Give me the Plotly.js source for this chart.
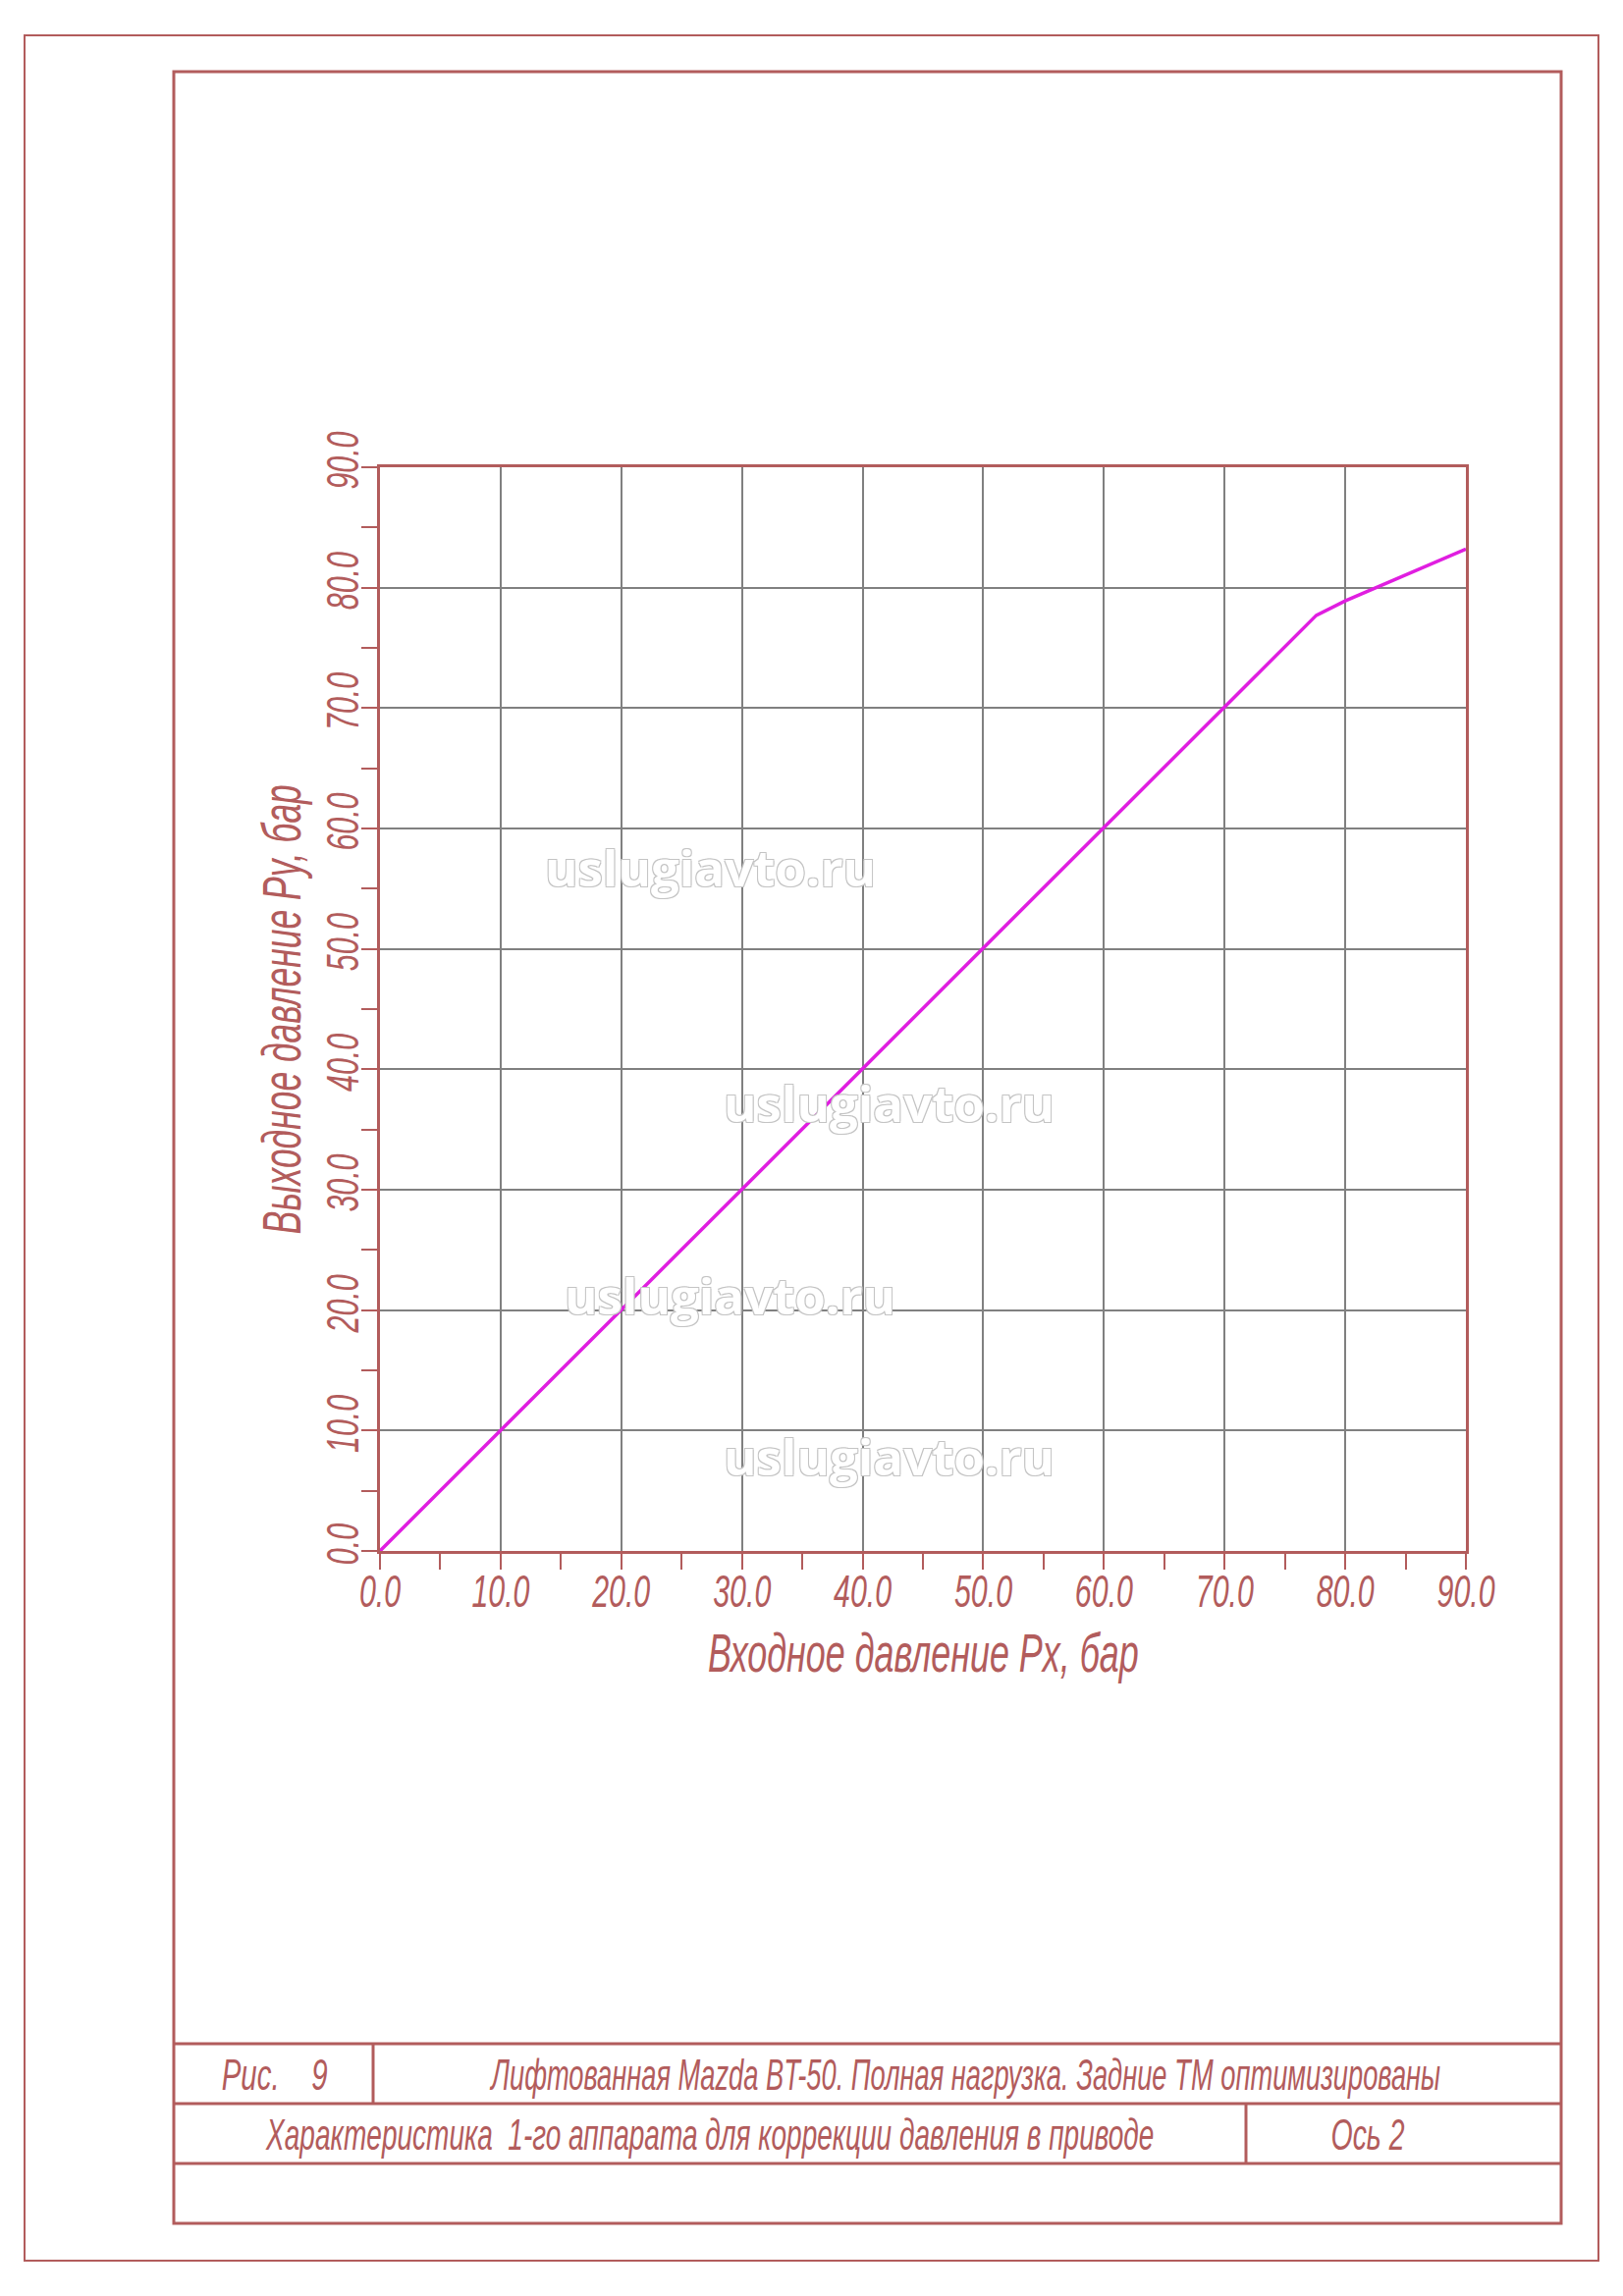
<!DOCTYPE html>
<html>
<head>
<meta charset="utf-8">
<script src="https://cdn.plot.ly/plotly-3.0.1.min.js"></script>
<style>
  html, body { margin: 0; padding: 0; background: #fff; }
  #chart { width: 1653px; height: 2339px; }
</style>
</head>
<body>
<div id="chart"></div>
<script>
// Characteristic of the pressure correction device (input vs output pressure)
const inputPressure = [0, 77.6, 80, 90];
const outputPressure = [0, 77.7, 78.9, 83.2];

const tickValues = [0, 10, 20, 30, 40, 50, 60, 70, 80, 90];
const tickLabels = ['0.0', '10.0', '20.0', '30.0', '40.0', '50.0', '60.0', '70.0', '80.0', '90.0'];

const xTitle = 'Входное давление Px, бар';
const yTitle = 'Выходное давление Py, бар';
const figLabel = 'Рис.    9';
const headerText = 'Лифтованная Mazda BT-50. Полная нагрузка. Задние ТМ оптимизированы';
const captionText = 'Характеристика  1-го аппарата для коррекции давления в приводе';
const axisText = 'Ось 2';
const watermark = 'uslugiavto.ru';

// Page geometry (pixels)
const W = 1653, H = 2339;
const fx = x => x / W;
const fy = y => 1 - y / H;

const red = '#b25c5c';
const gridGray = '#808080';
const lineMagenta = '#e01ee0';
const drawFont = 'Liberation Sans, Arial, sans-serif';

const plotBox = { left: 387, right: 1493, top: 476, bottom: 1580 };

// the drawing font is a narrow one, so wide glyphs get squeezed after render
const textWidths = {};
textWidths[xTitle] = 439;
textWidths[yTitle] = 458;
textWidths[figLabel] = 108;
textWidths[headerText] = 969;
textWidths[captionText] = 905;
textWidths[axisText] = 75;
const tickSqueeze = 0.66;

function hline(x0, x1, y, width) {
    return { type: 'line', xref: 'paper', yref: 'paper',
        x0: fx(x0), x1: fx(x1), y0: fy(y), y1: fy(y),
        line: { color: red, width: width } };
}
function vline(x, y0, y1, width) {
    return { type: 'line', xref: 'paper', yref: 'paper',
        x0: fx(x), x1: fx(x), y0: fy(y0), y1: fy(y1),
        line: { color: red, width: width } };
}
function rect(x0, y0, x1, y1, width) {
    return { type: 'rect', xref: 'paper', yref: 'paper',
        x0: fx(x0), x1: fx(x1), y0: fy(y1), y1: fy(y0),
        line: { color: red, width: width }, fillcolor: 'rgba(0,0,0,0)' };
}

// Drawing sheet frame and title block
const shapes = [
    rect(25, 36, 1628, 2303, 2),
    rect(177, 73, 1590, 2265, 3),
    hline(177, 1590, 2082, 3),
    hline(177, 1590, 2143, 3),
    hline(177, 1590, 2204, 3),
    vline(380, 2082, 2143, 3),
    vline(1269, 2143, 2204, 3)
];

function label(text, x, y, size, extra) {
    return Object.assign({
        text: text, xref: 'paper', yref: 'paper',
        x: fx(x), y: fy(y), xanchor: 'center', yanchor: 'middle',
        showarrow: false,
        font: { family: drawFont, size: size, color: red, style: 'italic' }
    }, extra || {});
}

function mark(x, y) {
    return {
        text: watermark, xref: 'paper', yref: 'paper',
        x: fx(x), y: fy(y), xanchor: 'center', yanchor: 'middle',
        showarrow: false,
        font: { family: 'Open Sans, DejaVu Sans, sans-serif', size: 51, weight: 700,
            color: '#ffffff',
            shadow: '1px 1px 0 #c4c4c4, -1px -1px 0 #c4c4c4, 1px -1px 0 #c4c4c4, -1px 1px 0 #c4c4c4' }
    };
}

const annotations = [
    label(xTitle, 940, 1683, 56),
    label(yTitle, 286, 1028, 56, { textangle: -90 }),
    label(figLabel, 279, 2113, 44),
    label(headerText, 983, 2113, 44),
    label(captionText, 723, 2174, 44),
    label(axisText, 1393, 2174, 44),
    mark(723, 883),
    mark(905, 1123),
    mark(743, 1319),
    mark(905, 1483)
];

const axisCommon = {
    range: [0, 90],
    tickmode: 'array',
    tickvals: tickValues,
    ticktext: tickLabels,
    ticks: 'outside',
    ticklen: 16,
    tickwidth: 2,
    tickcolor: red,
    minor: { dtick: 5, tick0: 0, ticks: 'outside', ticklen: 16, tickwidth: 2, tickcolor: red, showgrid: false },
    showline: true,
    linecolor: red,
    linewidth: 3,
    mirror: true,
    showgrid: true,
    gridcolor: gridGray,
    gridwidth: 2,
    zeroline: false,
    fixedrange: true,
    automargin: false,
    tickfont: { family: drawFont, size: 46, color: red, style: 'italic' }
};

const trace = {
    x: inputPressure,
    y: outputPressure,
    type: 'scatter',
    mode: 'lines',
    line: { color: lineMagenta, width: 3.5 },
    hoverinfo: 'skip',
    cliponaxis: false
};

const layout = {
    width: W,
    height: H,
    margin: { t: 0, r: 0, b: 0, l: 0 },
    paper_bgcolor: '#ffffff',
    plot_bgcolor: '#ffffff',
    showlegend: false,
    xaxis: Object.assign({}, axisCommon, {
        domain: [fx(plotBox.left), fx(plotBox.right)],
        tickangle: 0,
        ticklabelstandoff: -17
    }),
    yaxis: Object.assign({}, axisCommon, {
        domain: [fy(plotBox.bottom), fy(plotBox.top)],
        tickangle: -90,
        ticklabelstandoff: -15
    }),
    shapes: shapes,
    annotations: annotations
};

// squeeze a text element along its own baseline, keeping its centre
function squeeze(el, k) {
    const bb = el.getBBox();
    if (!bb.width) return;
    const cx = bb.x + bb.width / 2;
    const prev = el.getAttribute('transform') || '';
    el.setAttribute('transform',
        prev + ' translate(' + cx + ',0) scale(' + k.toFixed(4) + ',1) translate(' + (-cx) + ',0)');
}

function condenseText(gd) {
    gd.querySelectorAll('.annotation-text').forEach(el => {
        const target = textWidths[el.textContent];
        if (target) squeeze(el, target / el.getBBox().width);
    });
    gd.querySelectorAll('.xtick text, .ytick text').forEach(el => squeeze(el, tickSqueeze));
}

Plotly.newPlot('chart', [trace], layout, { staticPlot: true, displayModeBar: false })
    .then(condenseText);
</script>
</body>
</html>
